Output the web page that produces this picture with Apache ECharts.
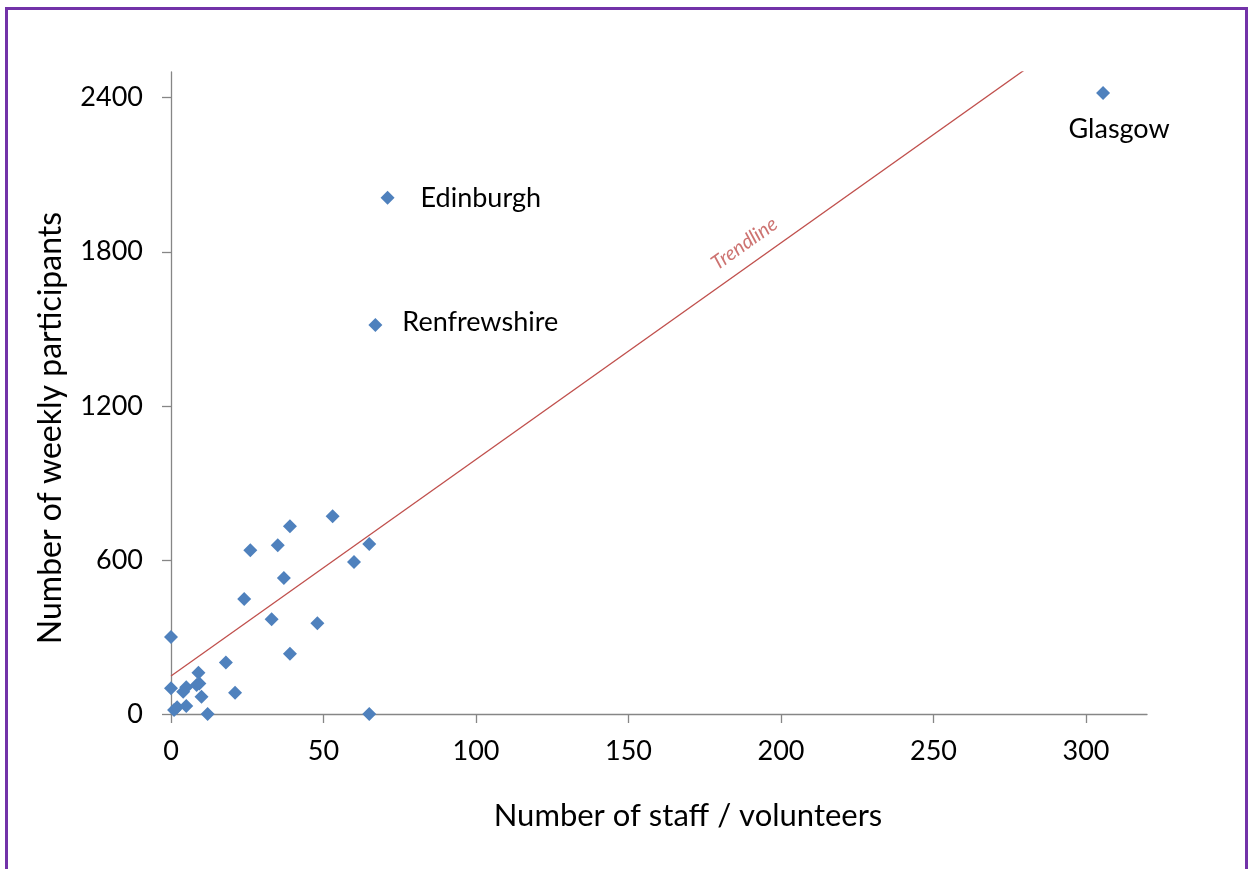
<!DOCTYPE html>
<html><head><meta charset="utf-8">
<script src="https://cdn.jsdelivr.net/npm/echarts@6/dist/echarts.min.js"></script>
<style>
html,body{margin:0;padding:0;background:#fff;}
#frame{position:absolute;left:5px;top:7px;width:1237px;height:900px;border:3px solid #7232a8;box-sizing:content-box;}
#chart{position:absolute;left:0;top:0;width:1250px;height:869px;}
</style></head>
<body>
<div id="frame"></div>
<div id="chart"></div>
<script>
// Data
const staff        = [0, 0, 1, 2, 4, 5, 5, 8.4, 9.3, 9, 10, 12, 18, 21, 24, 26, 33, 35, 37, 39, 39, 48, 53, 60, 65, 65];
const participants = [300, 100, 16, 26, 87, 104, 31, 113, 119, 161, 67, 0, 201, 83, 448, 638, 369, 657, 530, 731, 235, 353, 770, 592, 662, 0];
const namedAreas        = ['Renfrewshire', 'Edinburgh', 'Glasgow'];
const namedStaff        = [67, 71, 305.6];
const namedParticipants = [1515, 2010, 2418];
const xTicks = [0, 50, 100, 150, 200, 250, 300];
const yTicks = [0, 600, 1200, 1800, 2400];
const xMax = 320, yMax = 2500;

// linear least squares trendline over all points
const allX = staff.concat(namedStaff), allY = participants.concat(namedParticipants);
const n = allX.length;
const mx = allX.reduce((a,b)=>a+b,0)/n, my = allY.reduce((a,b)=>a+b,0)/n;
let sxy=0, sxx=0;
for (let i=0;i<n;i++){ sxy += (allX[i]-mx)*(allY[i]-my); sxx += (allX[i]-mx)**2; }
const slope = sxy/sxx, intercept = my - slope*mx;
const trendData = [[0, intercept], [xMax, intercept + slope*xMax]];
const trendLabelX = 188;
const trendLabelPt = [[trendLabelX, intercept + slope*trendLabelX + 98]];

const FONT = 'Lato';
const chart = echarts.init(document.getElementById('chart'), null, {renderer:'canvas'});
const blue = '#4f81bd';
const axisGray = '#868686';

const labelPos = {
  Renfrewshire: {position:'right', distance:20, offset:[0,-3]},
  Edinburgh:    {position:'right', distance:26, offset:[0,0]},
  Glasgow:      {position:'bottom', distance:16, offset:[16,0]}
};

chart.setOption({
  animation:false,
  textStyle:{fontFamily:FONT},
  grid:{left:171, right:103, top:72, bottom:155, containLabel:false},
  xAxis:{
    type:'value', min:0, max:xMax,
    splitLine:{show:false},
    axisLine:{show:true, lineStyle:{color:axisGray, width:1.3}},
    axisTick:{show:true, inside:false, length:9, lineStyle:{color:axisGray, width:1.3}, customValues:xTicks},
    axisLabel:{customValues:xTicks, margin:24, fontSize:27, color:'#000', fontFamily:FONT, formatter:v=>String(v)},
    name:'Number of staff / volunteers', nameLocation:'middle', nameGap:86,
    nameTextStyle:{fontSize:31, color:'#000', fontFamily:FONT, padding:[0,0,0,58]}
  },
  yAxis:{
    type:'value', min:0, max:yMax,
    splitLine:{show:false},
    axisLine:{show:true, lineStyle:{color:axisGray, width:1.3}},
    axisTick:{show:true, inside:false, length:9, lineStyle:{color:axisGray, width:1.3}, customValues:yTicks},
    axisLabel:{customValues:yTicks, margin:28, fontSize:27, color:'#000', fontFamily:FONT, formatter:v=>String(v)},
    name:'Number of weekly participants', nameLocation:'middle', nameGap:104,
    nameTextStyle:{fontSize:32, color:'#000', fontFamily:FONT, padding:[0,70,0,0]}
  },
  series:[
    {
      type:'line', data:trendData, symbol:'none', clip:true,
      lineStyle:{color:'#c0504d', width:1.3}, silent:true, z:1
    },
    {
      type:'scatter', data:staff.map((x,i)=>[x, participants[i]]),
      symbol:'diamond', symbolSize:14, itemStyle:{color:blue, opacity:1}, z:3
    },
    {
      type:'scatter', symbol:'diamond', symbolSize:14, itemStyle:{color:blue, opacity:1}, z:3,
      data:namedAreas.map((nm,i)=>({
        value:[namedStaff[i], namedParticipants[i]], name:nm,
        label:Object.assign({show:true, formatter:nm, fontSize:27, color:'#000', fontFamily:FONT}, labelPos[nm])
      }))
    },
    {
      type:'scatter', data:trendLabelPt, symbolSize:0, silent:true, z:4,
      label:{show:true, position:'inside', formatter:'Trendline', rotate:35.3,
        fontSize:20, fontStyle:'italic', color:'#c0504d', fontFamily:FONT}
    }
  ]
});
</script>
</body></html>
